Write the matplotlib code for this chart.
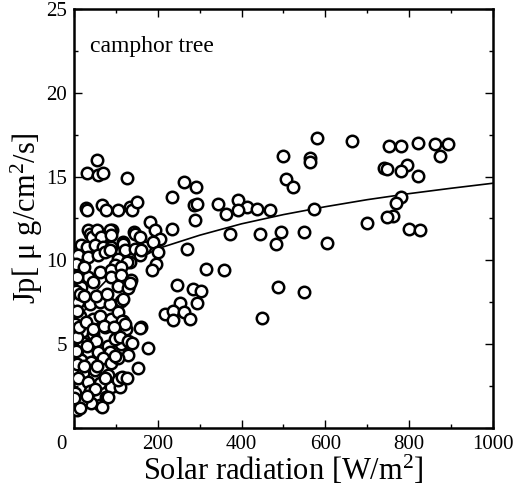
import numpy as np
import matplotlib
matplotlib.use('Agg')
from matplotlib import pyplot as plt
from matplotlib.ticker import MultipleLocator

plt.rcParams['font.family'] = 'Liberation Serif'
plt.rcParams['mathtext.fontset'] = 'custom'
plt.rcParams['mathtext.rm'] = 'Liberation Serif'
plt.rcParams['mathtext.it'] = 'Liberation Serif:italic'

## measured points, low radiation (dense cluster)
low_x = [54, 30, 58, 70, 126,
         29, 32, 66, 76, 106, 134, 138, 150,
         34, 38, 42, 54, 70, 90, 118, 122, 142, 154,
         65, 85, 89, 145,
         17, 30, 49, 69, 89, 117, 121, 145, 169,
         10, 33, 57, 73, 105, 133, 157,
         86, 126, 98, 106,
         10, 33, 61, 89, 113,
         17, 45, 89, 113, 129, 135, 106, 130, 134,
         10, 37, 61, 85, 113, 118,
         14, 45, 61, 89, 105, 117,
         21, 45, 73, 109, 125, 114, 122,
         21, 53, 81, 113, 133, 98, 110, 130, 138,
         10, 33, 57, 85, 129,
         17, 41, 69, 89, 105,
         2, 21, 49, 81, 109,
         10, 33, 61, 89, 109,
         77, 61, 41, 17, 2, 6, 14,
         2, 1, 106, 114, 66, 82, 126,
         5, 8, 4, 6, 3, 8, 4, 7, 12, 15, 25, 25, 28, 30, 25, 38, 50,
         45, 52, 78, 72, 95, 97, 73, 56, 30]
low_y = [16.0, 15.2, 15.1, 15.2, 14.9,
         13.1, 13.0, 13.3, 13.0, 13.0, 13.2, 13.0, 13.5,
         11.8, 11.6, 11.4, 11.8, 11.4, 11.8, 11.1, 10.7, 11.7, 10.7,
         11.4, 11.8, 11.5, 11.6,
         10.9, 10.8, 10.9, 10.8, 10.8, 11.0, 10.6, 10.7, 10.8,
         10.3, 10.2, 10.3, 10.5, 10.1, 9.9, 10.3,
         10.6, 9.9, 9.7, 9.25,
         9.2, 9.0, 9.3, 9.4, 9.6,
         8.4, 8.7, 9.0, 9.1, 8.4, 8.8, 8.45, 8.35, 8.65,
         7.5, 7.4, 7.5, 7.4, 7.6, 7.7,
         6.7, 6.5, 6.7, 6.5, 6.9, 6.4,
         5.8, 5.6, 6.0, 5.7, 5.9, 6.4, 6.2,
         5.1, 5.2, 4.9, 5.0, 5.1, 5.3, 5.4, 5.2, 5.1,
         4.55, 4.55, 4.55, 4.55, 4.36,
         4.06, 3.96, 4.16, 3.86, 4.16,
         3.36, 3.26, 3.46, 3.16, 2.96,
         2.96, 2.76, 2.66, 2.46, 2.46,
         1.87, 1.37, 1.47, 1.57, 1.27, 1.07, 1.17,
         2.07, 1.77, 2.86, 3.06, 1.27, 1.87, 2.98,
         9.8, 9.0, 8.2, 7.0, 6.2, 5.4, 4.6, 3.8, 6.0, 8.0, 9.6, 7.9, 6.3, 4.9, 3.7, 2.2, 2.3,
         5.9, 7.9, 8.0, 6.1, 6.0, 4.3, 3.0, 3.7, 1.9]

## measured points, higher radiation
high_x = [579, 664, 498, 564, 564, 507, 522, 262, 291, 233, 286, 293, 344, 392,
          412, 392, 364, 436, 468, 573, 289, 233, 372, 444, 493, 482, 550, 603,
          700, 269, 315, 358, 245, 285, 302, 488, 550, 253, 293, 217, 237, 263,
          236, 278, 449,
          751, 780, 822, 862, 893, 874, 740, 746, 794, 780, 822, 780, 769, 761,
          746, 799, 827,
          181, 193, 205, 189, 157, 161, 201, 196, 185, 161, 158, 177, 153]
high_y = [17.3, 17.1, 16.2, 16.1, 15.85, 14.85, 14.4, 14.7, 14.4, 13.8, 13.3, 13.35, 13.35, 13.6,
          13.2, 13.0, 12.77, 13.05, 13.0, 13.07, 12.4, 11.85, 11.55, 11.6, 11.7, 10.98, 11.7, 11.02,
          12.2, 10.65, 9.5, 9.4, 8.55, 8.27, 8.2, 8.4, 8.13, 7.44, 7.47, 6.8, 6.98, 6.94,
          6.44, 6.48, 6.58,
          16.8, 16.85, 17.0, 16.96, 16.93, 16.2, 15.5, 15.45, 15.7, 15.3, 15.06, 13.77, 13.45, 12.65,
          12.6, 11.9, 11.8,
          12.3, 11.8, 11.26, 11.1, 11.4, 10.6, 10.5, 9.79, 9.43, 6.05, 5.97, 4.75, 3.56]

## fitted curve
curve_x = [10, 25, 50, 75, 100, 150, 200, 250, 300, 400, 500, 600, 700, 800, 900, 1000]
curve_y = [5.9, 7.0, 8.1, 8.75, 9.26, 10.03, 10.7, 11.1, 11.5, 12.18, 12.73, 13.2, 13.62, 13.98, 14.3, 14.6]

fig = plt.figure(figsize=(5.14, 4.92), dpi=100)
ax = fig.add_axes([0.144, 0.130, 0.815, 0.852])

ax.scatter(low_x + high_x, low_y + high_y, s=68, facecolors='white',
           edgecolors='black', linewidths=1.8, zorder=3)
ax.plot(curve_x, curve_y, color='black', lw=1.2, zorder=2)

ax.set_xlim(0, 1000)
ax.set_ylim(0, 25)
ax.xaxis.set_major_locator(MultipleLocator(200))
ax.xaxis.set_minor_locator(MultipleLocator(100))
ax.yaxis.set_major_locator(MultipleLocator(5))
ax.yaxis.set_minor_locator(MultipleLocator(2.5))
ax.set_xticks([0, 200, 400, 600, 800, 1000])
ax.set_xticklabels(['', '200', '400', '600', '800', '1000'])
ax.set_yticks([0, 5, 10, 15, 20, 25])
ax.set_yticklabels(['', '5', '10', '15', '20', '25'])
ax.tick_params(which='both', direction='in', top=True, right=True,
               labelsize=15, width=1.0)
ax.tick_params(which='major', length=6, pad=5)
ax.tick_params(which='minor', length=3)
for sp in ax.spines.values():
    sp.set_linewidth(1.8)

ax.text(-0.03, -0.017, '0', transform=ax.transAxes, ha='center', va='top', fontsize=15)
ax.text(38, 22.4, 'camphor tree', fontsize=17)

ax.set_xlabel(r'Solar radiation [W/m$^2$]', fontsize=22, labelpad=0)
ax.set_ylabel(r'Jp[ μ g/cm$^2$/s]', fontsize=22, labelpad=1)

plt.savefig('out.png', dpi=100)
